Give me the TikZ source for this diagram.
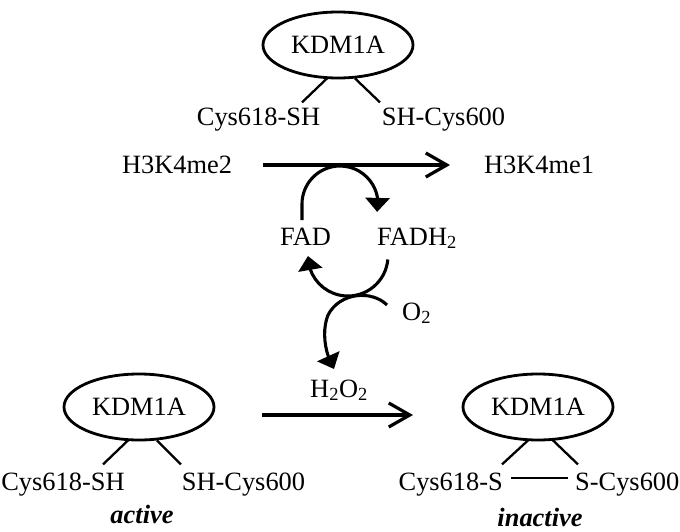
\documentclass[tikz,border=0pt]{standalone}
\usepackage{fontspec}
\setmainfont{Liberation Serif}
\usetikzlibrary{arrows.meta,bending,calc,shapes.geometric}
\begin{document}
\begin{tikzpicture}[x=1pt,y=1pt,
  every node/.style={font=\fontsize{26.4}{30}\selectfont, inner sep=0pt},
  enz/.style={draw, ellipse, line width=2.8pt, minimum width=150pt, minimum height=66pt},
  bond/.style={line width=2.3pt},
  rxn/.style={line width=3.2pt, -{Straight Barb[length=21pt,width=24pt,line width=3.2pt]}},
  cyc/.style={line width=3.1pt, -{Triangle[width=24pt,length=14pt]}}]
\useasboundingbox (0,0) rectangle (680,-532);

% top enzyme
\node[enz] (k1) at (338,-45) {KDM1A};
\node[anchor=base] (t1l) at (258.5,-126) {Cys618-SH};
\node[anchor=base] (t1r) at (443.5,-126) {SH-Cys600};
\draw[bond] ($(k1.south)+(-11,1)$) -- ++(-25,-24);
\draw[bond] ($(k1.south)+(17,1)$) -- ++(25,-24);

% demethylation
\node[anchor=base] (s) at (177,-173) {H3K4me2};
\node[anchor=base] (p) at (539,-173) {H3K4me1};
\coordinate (a1) at (263,-165);
\coordinate (a2) at (450,-165);
\draw[rxn] (a1) -- (a2);

% FAD cycle
\node[anchor=base west] (fad) at (280,-245) {FAD};
\node[anchor=base west] (fadh) at (377,-245) {FADH\textsubscript{2}};
\node[anchor=base west] (o2) at (402,-320) {O\textsubscript{2}};
\node[anchor=base west] (h2o2) at (310,-397) {H\textsubscript{2}O\textsubscript{2}};

\coordinate (c1) at (302,-220);
\draw[cyc] (c1) -- (302,-204) arc[start angle=180, end angle=-12, radius=38];
\coordinate (c2) at (387.8,-259.5);
\draw[cyc] (c2) arc[start angle=-5, end angle=-180, radius=40];
\coordinate (c3) at (387,-305);
\coordinate (c4) at (334,-369);
\draw[cyc] (c3) .. controls (372,-290) and (340,-292) .. (328,-315)
               .. controls (322,-330) and (324,-352) .. (c4);

% bottom left enzyme (active)
\node[enz] (k2) at (139,-407) {KDM1A};
\node[anchor=base] (t2l) at (63,-490) {Cys618-SH};
\node[anchor=base] (t2r) at (243.5,-490) {SH-Cys600};
\draw[bond] ($(k2.south)+(-11,1)$) -- ++(-25,-24);
\draw[bond] ($(k2.south)+(18,1)$) -- ++(24,-24);
\node[anchor=base] (act) at (142,-523) {\textbf{\textit{active}}};

% oxidation arrow
\coordinate (b1) at (262,-415);
\coordinate (b2) at (413,-415);
\draw[rxn] (b1) -- (b2);

% bottom right enzyme (inactive)
\node[enz] (k3) at (538,-407) {KDM1A};
\node[anchor=base east] (t3l) at (503,-490) {Cys618-S};
\node[anchor=base west] (t3r) at (575,-490) {S-Cys600};
\draw[bond] ($(k3.south)+(-10,1)$) -- ++(-26,-24);
\draw[bond] ($(k3.south)+(15,1)$) -- ++(25,-24);
\draw[bond] ($(t3l.base east)+(8,12)$) -- ($(t3r.base west)+(-7,12)$);
\node[anchor=base] (inact) at (540,-526) {\textbf{\textit{inactive}}};
\end{tikzpicture}
\end{document}
